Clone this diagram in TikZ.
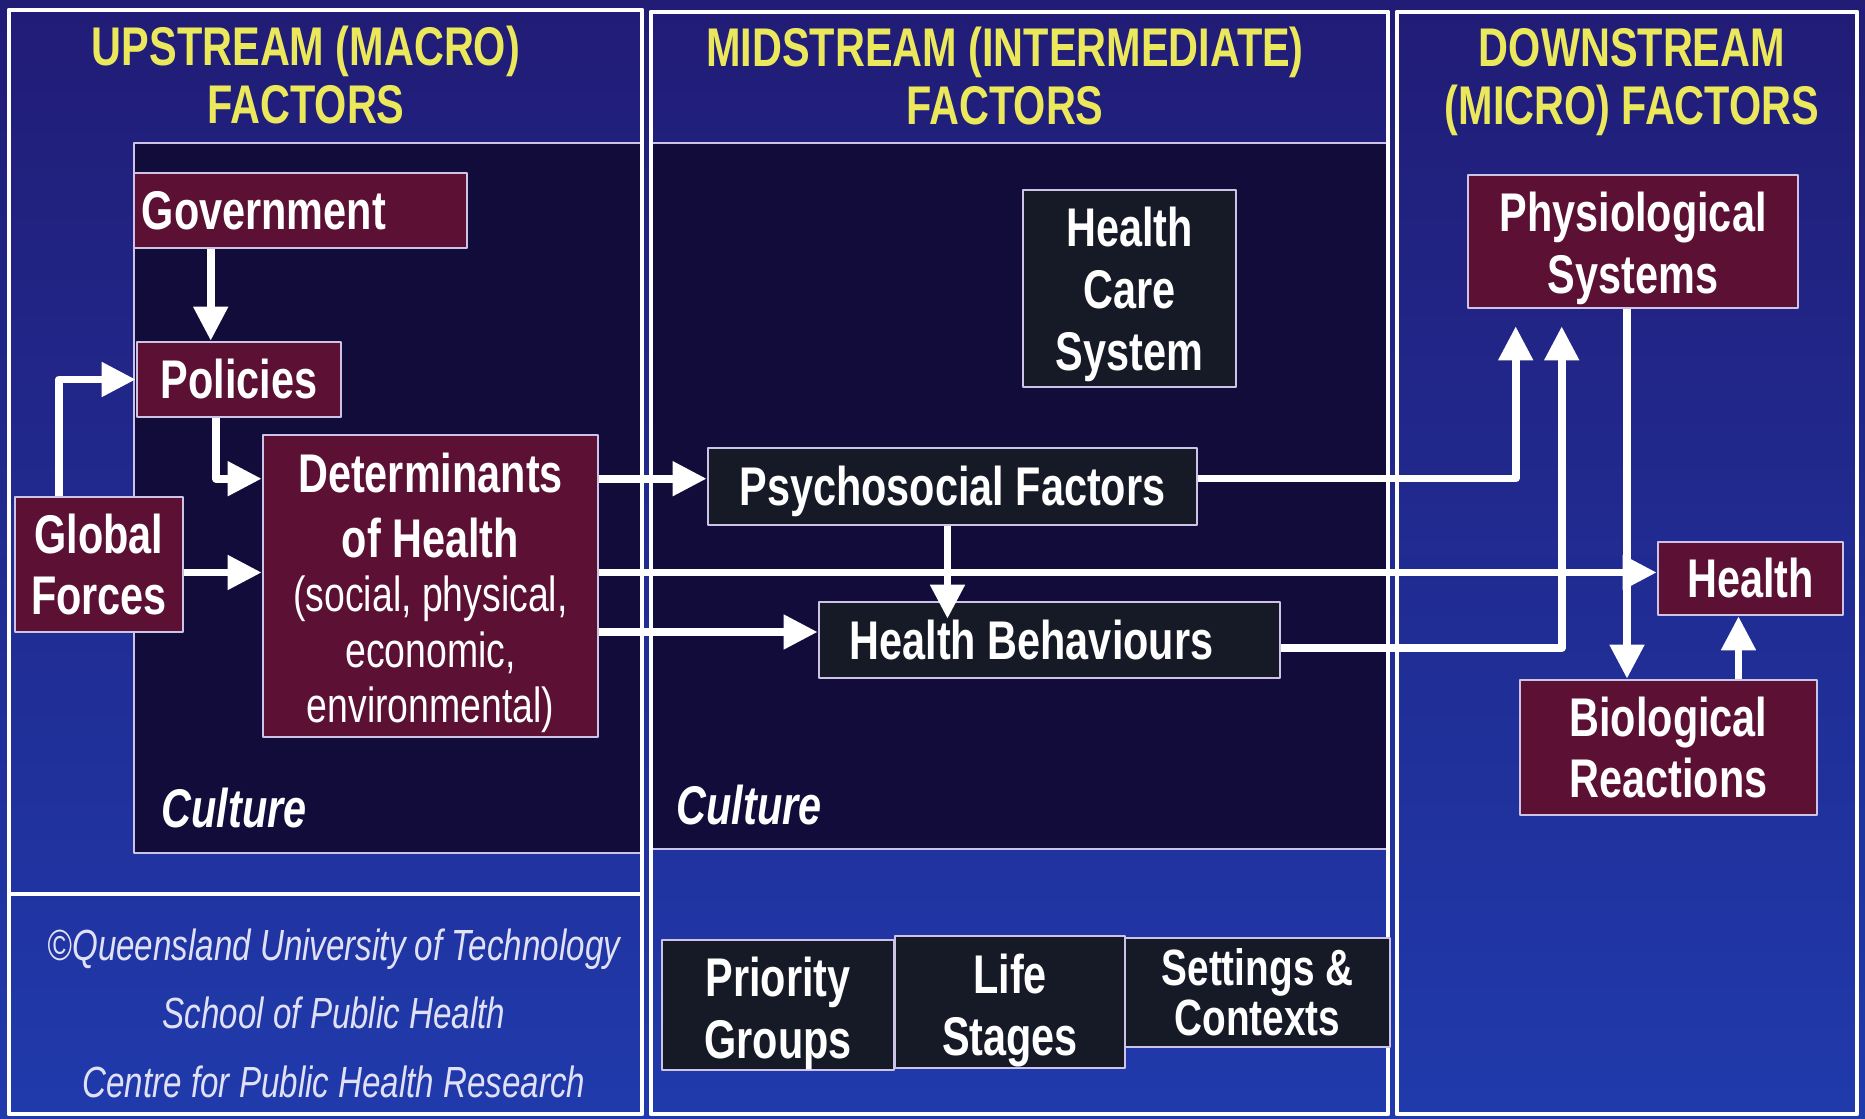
\documentclass[tikz,border=0pt]{standalone}
\usepackage{fontspec}
\setmainfont{Liberation Sans}[FakeStretch=0.76]
\usetikzlibrary{arrows.meta}

\definecolor{navy}{RGB}{33,28,118}
\definecolor{slideblue}{RGB}{32,58,172}
\definecolor{inkblue}{RGB}{17,12,58}
\definecolor{wine}{RGB}{92,16,52}
\definecolor{slate}{RGB}{22,26,38}
\definecolor{titleyellow}{RGB}{236,232,92}
\definecolor{rim}{RGB}{205,195,230}
\definecolor{foot}{RGB}{225,225,245}

\begin{document}
\begin{tikzpicture}[x=0.01cm, y=-0.01cm, line join=round,
    >={Triangle[width=0.33cm,length=0.34cm]},
    font=\fontsize{15.5}{17.6}\selectfont\bfseries,
    box/.style={draw=rim, line width=0.7pt, text=white, align=center, inner xsep=0.08cm, inner ysep=0pt},
    red box/.style={box, fill=wine},
    dark box/.style={box, fill=slate},
    head/.style={text=titleyellow, align=center, font=\fontsize{15.5}{16.5}\selectfont\bfseries},
    culture/.style={text=white, anchor=base west, inner sep=0pt, font=\fontsize{15.5}{17}\selectfont\bfseries\itshape},
    panel/.style={draw=white, line width=1.4pt},
    field/.style={fill=inkblue, draw=rim, line width=0.6pt},
    flow/.style={->, draw=white, line width=2.2pt}]
    \def\W{1865} \def\H{1119}
    \def\finer{\mdseries\fontsize{14}{15.5}\selectfont}
    \def\lift#1{\rule{0pt}{#1}}% taller first line pushes the text down a little
    \shade[top color=navy, bottom color=slideblue] (0,0) rectangle (\W,\H);
    \useasboundingbox (0,0) rectangle (\W,\H);

    % dark fields (culture)
    \path[field] (642,143) -- (134,143) -- (134,853) -- (642,853);
    \path[field] (651,143) rectangle (1388,849);

    % the three columns
    \draw[panel] (9,10) rectangle (642,1114);
    \draw[panel] (651,12) rectangle (1388,1114);
    \draw[panel] (1397,12) rectangle (1857,1114);
    \draw[panel, line width=1pt] (9,894) -- (642,894);

    \node[head] (up) at (306,75) {UPSTREAM (MACRO)\\FACTORS};
    \node[head] (mid) at (1005,76) {MIDSTREAM (INTERMEDIATE)\\FACTORS};
    \node[head] (down) at (1632,82) {DOWNSTREAM\\(MICRO) FACTORS};

    % upstream
    \node[red box, minimum width=3.33cm, minimum height=0.75cm, text width=3.17cm, align=left] (gov) at (300.5,210.5) {Government};
    \node[red box, minimum width=2.04cm, minimum height=0.75cm] (pol) at (239,379.5) {Policies};
    \node[red box, minimum width=1.68cm, minimum height=1.35cm] (glob) at (99,564.5) {Global\\Forces};
    \node[red box, minimum width=3.35cm, minimum height=3.02cm] (det) at (430.5,586)
        {\lift{0.53cm}Determinants\\[1pt]of Health\\[-2.2pt]\finer (social, physical,\\[-1.7pt]\finer economic,\\[-2pt]\finer environmental)};

    % midstream
    \node[dark box, minimum width=2.13cm, minimum height=1.97cm] (hcs) at (1129.5,288.5) {\lift{0.52cm}Health\\Care\\System};
    \node[dark box, minimum width=4.89cm, minimum height=0.77cm] (psy) at (952.5,486.5) {\lift{0.5cm}Psychosocial Factors};
    \node[dark box, minimum width=4.61cm, minimum height=0.76cm] (hb) at (1049.5,640) {Health Behaviours\hspace{0.36cm}};
    \node[dark box, minimum width=2.32cm, minimum height=1.30cm] (prio) at (778,1005) {\lift{0.57cm}Priority\\Groups};
    \node[dark box, minimum width=2.30cm, minimum height=1.32cm] (life) at (1010,1002) {\lift{0.57cm}Life\\Stages};
    \node[dark box, minimum width=2.65cm, minimum height=1.09cm, font=\fontsize{14.5}{13}\selectfont\bfseries] (sett) at (1257.5,992.5) {Settings \&\\Contexts};

    % downstream
    \node[red box, minimum width=3.30cm, minimum height=1.33cm] (phys) at (1633,241.5) {\lift{0.54cm}Physiological\\Systems};
    \node[red box, minimum width=1.85cm, minimum height=0.73cm] (health) at (1750.5,578.5) {Health};
    \node[red box, minimum width=2.97cm, minimum height=1.35cm] (bio) at (1668.5,747.5) {Biological\\Reactions};

    \node[culture] (cult-up) at (161,828) {Culture};
    \node[culture] (cult-mid) at (676,825) {Culture};

    \node[text=foot, align=center, font=\fontsize{12.4}{19.5}\selectfont\itshape] (credit) at (334,1013)
        {\textcopyright Queensland University of Technology\\School of Public Health\\Centre for Public Health Research};

    % arrows
    \draw[flow] ([xshift=0.78cm]gov.south west) -- ([xshift=0.78cm]gov.south west |- pol.north);
    \draw[flow] ([xshift=-0.4cm]glob.north) |- (pol.west);
    \draw[flow] ([xshift=0.8cm]pol.south west) |- ([yshift=-0.45cm]det.north west);
    \draw[flow] ([yshift=-0.08cm]glob.east) -- ([yshift=-0.08cm]glob.east -| det.west);
    \draw[flow] ([yshift=-0.45cm]det.north east) -- ([yshift=-0.45cm]det.north east -| psy.west);
    \draw[flow] ([yshift=0.06cm]health.west -| det.east) -- ([yshift=0.06cm]health.west);
    \draw[flow] ([yshift=0.08cm]hb.west -| det.east) -- ([yshift=0.08cm]hb.west);
    \draw[flow, shorten >=-0.18cm] ([xshift=-0.05cm]psy.south) -- ([xshift=-0.05cm]psy.south |- hb.north);
    \draw[flow] ([yshift=0.08cm]psy.east) -| ([xshift=0.49cm,yshift=-0.17cm]phys.south west);
    \draw[flow] ([yshift=-0.08cm]hb.east) -| ([xshift=0.95cm,yshift=-0.17cm]phys.south west);
    \draw[flow] ([xshift=-0.06cm]phys.south) -- ([xshift=-0.06cm]phys.south |- bio.north);
    \draw[flow] ([xshift=-0.12cm]health.south |- bio.north) -- ([xshift=-0.12cm]health.south);
\end{tikzpicture}
\end{document}
